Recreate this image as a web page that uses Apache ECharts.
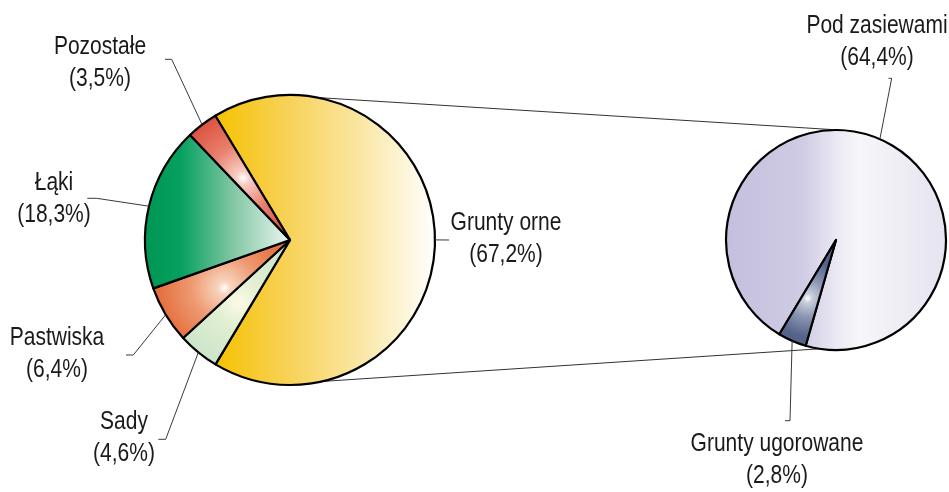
<!DOCTYPE html>
<html><head><meta charset="utf-8">
<script src="https://cdn.jsdelivr.net/npm/echarts@6.0.0/dist/echarts.min.js"></script>
<style>html,body{margin:0;padding:0;background:#fff}#c{width:949px;height:492px}</style>
</head><body><div id="c"></div>
<script>
// ---- data ----
const landNames = ['Grunty orne', 'Sady', 'Pastwiska', 'Łąki', 'Pozostałe'];
const landValues = [67.2, 4.6, 6.4, 18.3, 3.5];
const arableNames = ['Pod zasiewami', 'Grunty ugorowane'];
const arableValues = [64.4, 2.8];

// ---- layout / style ----
const FONT = "'Liberation Sans', Arial, sans-serif";
const FONT_SIZE = 25, SCALE_X = 0.84, LINE_H = 32;
const L_CENTER = [290, 240], L_R = 145, L_START = 121;
const R_CENTER = [836, 240], R_R = 110, R_START = 239;

const landLabelPos = [
  { x: 506, y: 239, m: [449, 240], e: [449, 240] },
  { x: 124, y: 438, m: [165.7, 439.3], e: [158.3, 439.3] },
  { x: 57, y: 354, m: [133.3, 355], e: [126, 355] },
  { x: 54, y: 199, m: [96.7, 198.3], e: [87.3, 198.3] },
  { x: 100, y: 63, m: [171.7, 59.3], e: [165, 59.3] }
];
const arableLabelPos = [
  { x: 877, y: 42, m: [891.7, 78.3], e: [888.5, 78.3] },
  { x: 777, y: 460, m: [790, 420.7], e: [785, 420.7] }
];

function lin(stops) {
  return { type: 'linear', x: 0, y: 0, x2: 1, y2: 0,
    colorStops: stops.map(s => ({ offset: s[0], color: s[1] })) };
}
function rad(x, y, r, stops) {
  return { type: 'radial', x: x, y: y, r: r,
    colorStops: stops.map(s => ({ offset: s[0], color: s[1] })) };
}
const landFills = [
  lin([[0, '#F5C200'], [0.3, '#F7D050'], [0.65, '#FAE6A2'], [1, '#FFFFFF']]),
  rad(0.52, 0.5, 0.7, [[0, '#FBFBE4'], [0.3, '#E2EFD3'], [1, '#C6E2C6']]),
  rad(0.52, 0.49, 0.65, [[0, '#FFFFFF'], [0.1, '#F8D4BE'], [0.5, '#EE9A72'], [1, '#E5703F']]),
  lin([[0, '#009552'], [0.25, '#05A060'], [0.6, '#80C6A3'], [1, '#EEF7F2']]),
  rad(0.53, 0.5, 0.65, [[0, '#FFFFFF'], [0.1, '#F7CFC4'], [0.5, '#E9806E'], [1, '#DC5442']])
];
const arableFills = [
  lin([[0, '#C4BFDD'], [0.35, '#CFCBE4'], [0.5, '#EAE8F3'], [0.6, '#F7F6FA'], [1, '#E5E3EF']]),
  rad(0.5, 0.55, 0.65, [[0, '#FFFFFF'], [0.12, '#C8CEDC'], [0.5, '#8A95B0'], [1, '#55638A']])
];

function edgePoint(center, r, startDeg, values, idx) {
  const total = values.reduce((a, b) => a + b, 0);
  let before = 0;
  for (let i = 0; i < idx; i++) before += values[i];
  const mid = startDeg - (before + values[idx] / 2) / total * 360;
  const a = mid * Math.PI / 180;
  return [center[0] + r * Math.cos(a), center[1] - r * Math.sin(a)];
}
function circlePt(center, r, deg) {
  const a = deg * Math.PI / 180;
  return [center[0] + r * Math.cos(a), center[1] - r * Math.sin(a)];
}
function fmt(name, value) {
  return name + '\n(' + String(value).replace('.', ',') + '%)';
}

function labelGraphics(names, values, pos, center, r, start) {
  const out = [];
  names.forEach((n, i) => {
    const L = pos[i];
    const p0 = edgePoint(center, r, start, values, i);
    out.push({ type: 'polyline', z: 5, shape: { points: [p0, L.m, L.e] },
      style: { stroke: '#3a3a3a', lineWidth: 1, fill: null } });
    out.push({ type: 'text', z: 5, x: L.x, y: L.y, scaleX: SCALE_X,
      style: { text: fmt(n, values[i]), x: 0, y: 0, fill: '#1a1a1a',
        font: FONT_SIZE + 'px ' + FONT, fontSize: FONT_SIZE, fontFamily: FONT,
        lineHeight: LINE_H, align: 'center', verticalAlign: 'middle' } });
  });
  return out;
}

const topL = circlePt(L_CENTER, L_R, 79.3), topR = circlePt(R_CENTER, R_R, 85);
const botL = circlePt(L_CENTER, L_R, -77.3), botR = circlePt(R_CENTER, R_R, -98.5);

const chart = echarts.init(document.getElementById('c'), null, { renderer: 'canvas' });
chart.setOption({
  animation: false,
  backgroundColor: '#ffffff',
  graphic: [
    { type: 'line', z: 0, shape: { x1: topL[0], y1: topL[1], x2: topR[0], y2: topR[1] },
      style: { stroke: '#333', lineWidth: 1 } },
    { type: 'line', z: 0, shape: { x1: botL[0], y1: botL[1], x2: botR[0], y2: botR[1] },
      style: { stroke: '#333', lineWidth: 1 } }
  ].concat(
    labelGraphics(landNames, landValues, landLabelPos, L_CENTER, L_R, L_START),
    labelGraphics(arableNames, arableValues, arableLabelPos, R_CENTER, R_R, R_START)
  ),
  series: [
    {
      type: 'pie', center: L_CENTER, radius: L_R, startAngle: L_START, clockwise: true,
      silent: true, label: { show: false }, labelLine: { show: false },
      itemStyle: { borderColor: '#000', borderWidth: 2.2 },
      data: landNames.map((n, i) => ({ name: n, value: landValues[i], itemStyle: { color: landFills[i] } }))
    },
    {
      type: 'pie', center: R_CENTER, radius: R_R, startAngle: R_START, clockwise: true,
      silent: true, label: { show: false }, labelLine: { show: false },
      itemStyle: { borderColor: '#000', borderWidth: 2.2 },
      data: arableNames.map((n, i) => ({ name: n, value: arableValues[i], itemStyle: { color: arableFills[i] } }))
    }
  ]
});
</script></body></html>
